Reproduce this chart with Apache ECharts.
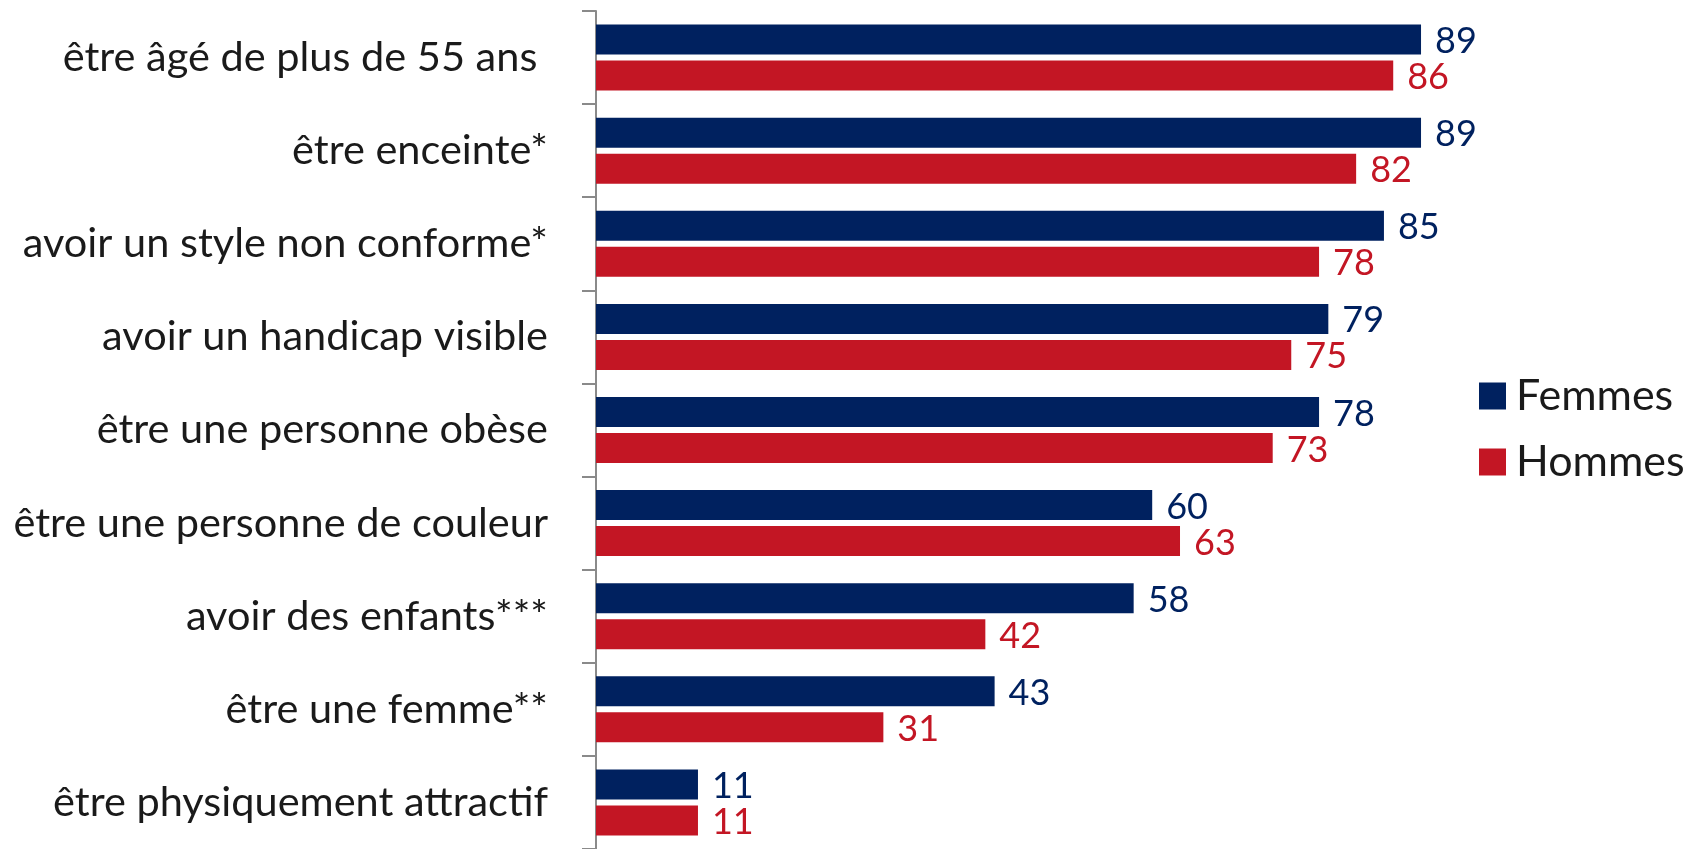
<!DOCTYPE html>
<html>
<head>
<meta charset="utf-8">
<script src="https://cdn.jsdelivr.net/npm/echarts@6/dist/echarts.min.js"></script>
<style>
  html, body { margin: 0; padding: 0; background: #fff; }
  #chart { width: 1702px; height: 849px; }
</style>
</head>
<body>
<div id="chart"></div>
<script>
  // categories from top to bottom
  var categories = [
    'être âgé de plus de 55 ans ',
    'être enceinte*',
    'avoir un style non conforme*',
    'avoir un handicap visible',
    'être une personne obèse',
    'être une personne de couleur',
    'avoir des enfants***',
    'être une femme**',
    'être physiquement attractif'
  ]
  var femmes = [89, 89, 85, 79, 78, 60, 58, 43, 11]
  var hommes = [86, 82, 78, 75, 73, 63, 42, 31, 11]

  var navy = '#00215f'
  var red = '#c31624'
  var font = 'Lato'

  var chart = echarts.init(document.getElementById('chart'))
  chart.setOption({
    animation: false,
    color: [navy, red],
    grid: { left: 596, top: 11, width: 927, height: 843, containLabel: false },
    legend: {
      orient: 'vertical',
      left: 1474,
      top: 368,
      itemWidth: 27,
      itemHeight: 27,
      itemGap: 20,
      icon: 'rect',
      data: ['Femmes', 'Hommes'],
      textStyle: { fontFamily: font, fontSize: 43, color: '#1a1a1a', lineHeight: 46, padding: [0, 0, 0, 5] }
    },
    xAxis: {
      type: 'value',
      min: 0,
      max: 100,
      show: false
    },
    yAxis: {
      type: 'category',
      inverse: true,
      data: categories,
      axisLine: { show: true, lineStyle: { color: '#8a8a8a', width: 2 } },
      axisTick: { show: true, length: 14, lineStyle: { color: '#8a8a8a', width: 2 } },
      axisLabel: { margin: 48, fontFamily: font, fontSize: 41.5, color: '#1a1a1a' }
    },
    series: [
      {
        name: 'Femmes',
        type: 'bar',
        data: femmes,
        barWidth: 30,
        barGap: '20%',
        label: { show: true, position: 'right', distance: 14, fontFamily: font, fontSize: 36, color: navy, offset: [0, 2] }
      },
      {
        name: 'Hommes',
        type: 'bar',
        data: hommes,
        barWidth: 30,
        barGap: '20%',
        label: { show: true, position: 'right', distance: 14, fontFamily: font, fontSize: 36, color: red, offset: [0, 2] }
      }
    ]
  })
</script>
</body>
</html>
